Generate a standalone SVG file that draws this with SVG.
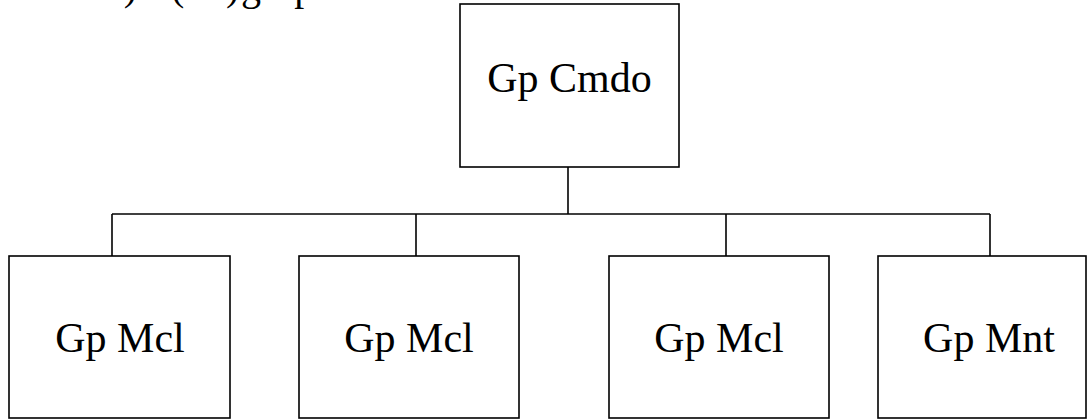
<svg xmlns="http://www.w3.org/2000/svg" width="1090" height="419" viewBox="0 0 1090 419">
  <style>
    .box { fill: #ffffff; stroke: #000000; stroke-width: 1.6; }
    .lbl { font-family: "Liberation Serif", "Times New Roman", serif; font-size: 42px; fill: #000000; text-anchor: middle; }
    .conn { fill: none; stroke: #000000; stroke-width: 1.6; }
    .cut { font-family: "Liberation Serif", "Times New Roman", serif; font-size: 40px; fill: #000000; }
  </style>
  <rect width="1090" height="419" fill="#ffffff"/>
  <text class="cut" y="0"><tspan x="106">a)</tspan><tspan x="171">(...</tspan><tspan x="226">)</tspan><tspan x="241">grupo</tspan></text>
  <g id="connectors">
    <line class="conn" x1="568" y1="167" x2="568" y2="214"/>
    <line class="conn" x1="112" y1="214" x2="990" y2="214"/>
    <line class="conn" x1="112" y1="214" x2="112" y2="256"/>
    <line class="conn" x1="416" y1="214" x2="416" y2="256"/>
    <line class="conn" x1="726" y1="214" x2="726" y2="256"/>
    <line class="conn" x1="990" y1="214" x2="990" y2="256"/>
  </g>
  <g id="gp-cmdo">
    <rect class="box" x="460" y="4" width="219" height="163"/>
    <text class="lbl" x="569.5" y="92">Gp Cmdo</text>
  </g>
  <g id="gp-mcl-1">
    <rect class="box" x="9" y="256" width="221" height="162"/>
    <text class="lbl" x="120" y="352">Gp Mcl</text>
  </g>
  <g id="gp-mcl-2">
    <rect class="box" x="299" y="256" width="220" height="162"/>
    <text class="lbl" x="409" y="352">Gp Mcl</text>
  </g>
  <g id="gp-mcl-3">
    <rect class="box" x="609" y="256" width="220" height="162"/>
    <text class="lbl" x="719" y="352">Gp Mcl</text>
  </g>
  <g id="gp-mnt">
    <rect class="box" x="878" y="256" width="208" height="162"/>
    <text class="lbl" x="989" y="352">Gp Mnt</text>
  </g>
</svg>
